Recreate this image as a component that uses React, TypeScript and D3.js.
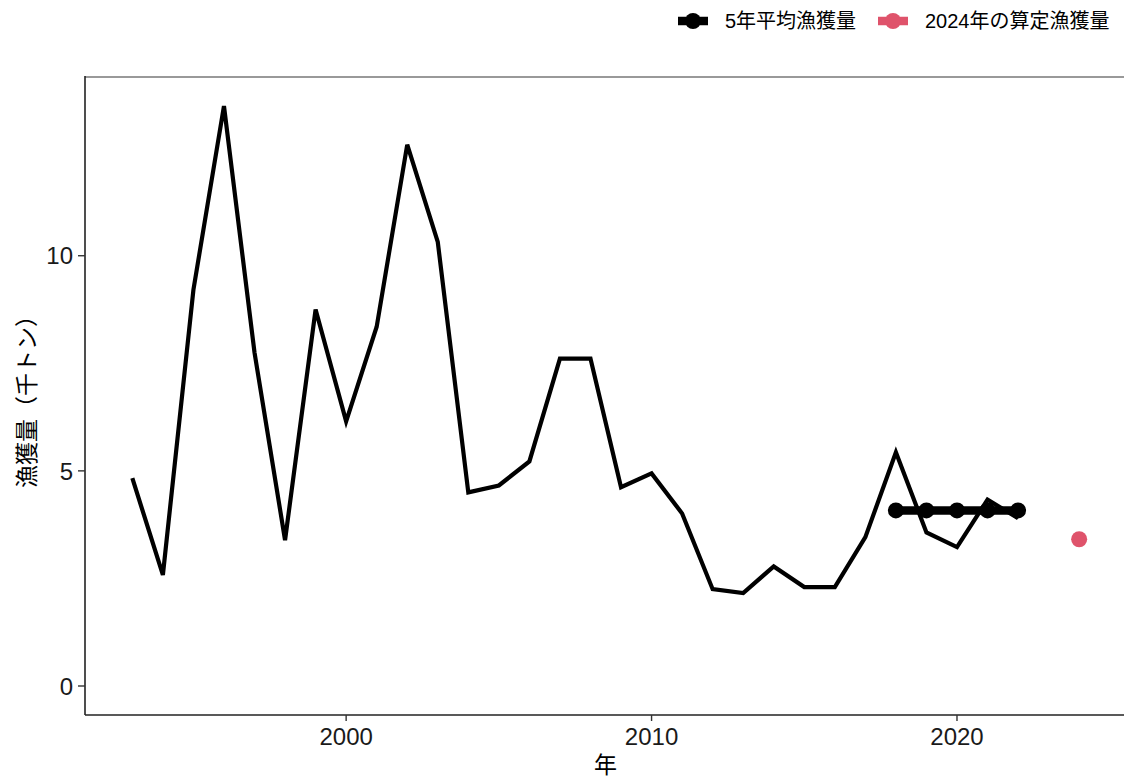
import React from "react";
import * as d3 from "d3";

const years = [1993,1994,1995,1996,1997,1998,1999,2000,2001,2002,2003,2004,2005,2006,2007,2008,2009,2010,2011,2012,2013,2014,2015,2016,2017,2018,2019,2020,2021,2022];
const catch_ = [4.83,2.58,9.21,13.48,7.75,3.39,8.75,6.15,8.35,12.58,10.32,4.50,4.66,5.22,7.61,7.61,4.62,4.94,4.01,2.25,2.16,2.78,2.30,2.30,3.46,5.43,3.57,3.23,4.33,3.90];
const avgYears = [2018,2019,2020,2021,2022];
const avgValues = [4.08,4.08,4.08,4.08,4.08];
const estYear = [2024];
const estValue = [3.41];
const xTicks = [2000,2010,2020];
const yTicks = [0,5,10];
const legendLabels = ["5年平均漁獲量","2024年の算定漁獲量"];

const W = 1124, H = 782;
const left = 85, top = 77, bottom = 715;
const RED = "#DF536B";
const FONT = "'Liberation Sans', Arial, 'Noto Sans CJK JP', sans-serif";

export default function App() {
  const x = d3.scaleLinear().domain([1991.45, 2025.55]).range([left, 1126.5]);
  const y = d3.scaleLinear().domain([-0.674, 14.154]).range([bottom, top]);
  const line = d3.line<[number, number]>().x(d => x(d[0])).y(d => y(d[1]));
  const mainPts: [number, number][] = years.map((yr, i) => [yr, catch_[i]]);
  const avgPts: [number, number][] = avgYears.map((yr, i) => [yr, avgValues[i]]);

  return (
    <svg width={W} height={H} style={{ position: "absolute", left: 0, top: 0, background: "#fff" }} fontFamily={FONT}>
      <rect x={0} y={0} width={W} height={H} fill="#fff" />
      {/* top border */}
      <line x1={left} x2={W} y1={top} y2={top} stroke="#777" strokeWidth={1.5} />
      <path d={line(mainPts) || ""} fill="none" stroke="#000" strokeWidth={4.2} strokeLinejoin="miter" />
      <path d={line(avgPts) || ""} fill="none" stroke="#000" strokeWidth={8.5} />
      {avgPts.map((p, i) => (
        <circle key={i} cx={x(p[0])} cy={y(p[1])} r={8} fill="#000" />
      ))}
      {estYear.map((yr, i) => (
        <circle key={i} cx={x(yr)} cy={y(estValue[i])} r={8} fill={RED} />
      ))}
      {/* axes */}
      <line x1={left} x2={left} y1={top - 1} y2={bottom} stroke="#222" strokeWidth={1.6} />
      <line x1={left} x2={W} y1={bottom} y2={bottom} stroke="#222" strokeWidth={1.6} />
      {yTicks.map(t => (
        <g key={t}>
          <line x1={left - 7} x2={left} y1={y(t)} y2={y(t)} stroke="#333" strokeWidth={1.4} />
          <text x={left - 12} y={y(t)} dy="0.36em" textAnchor="end" fontSize={24} fill="#1a1a1a">{t}</text>
        </g>
      ))}
      {xTicks.map(t => (
        <g key={t}>
          <line x1={x(t)} x2={x(t)} y1={bottom} y2={bottom + 6} stroke="#333" strokeWidth={1.4} />
          <text x={x(t)} y={745} textAnchor="middle" fontSize={24} fill="#1a1a1a">{t}</text>
        </g>
      ))}
      <text x={(left + 1126) / 2} y={773} textAnchor="middle" fontSize={23} fill="#000">年</text>
      <text transform={`translate(35, ${(top + bottom) / 2}) rotate(-90)`} textAnchor="middle" fontSize={23} fill="#000">漁獲量（千トン）</text>
      {/* legend */}
      <g>
        <line x1={678} x2={708} y1={21} y2={21} stroke="#000" strokeWidth={8.5} />
        <circle cx={693} cy={21} r={8} fill="#000" />
        <text x={725} y={21} dy="0.36em" fontSize={20} fill="#000">{legendLabels[0]}</text>
        <line x1={878} x2={908} y1={21} y2={21} stroke={RED} strokeWidth={8.5} />
        <circle cx={893} cy={21} r={8} fill={RED} />
        <text x={925} y={21} dy="0.36em" fontSize={20} fill="#000">{legendLabels[1]}</text>
      </g>
    </svg>
  );
}
